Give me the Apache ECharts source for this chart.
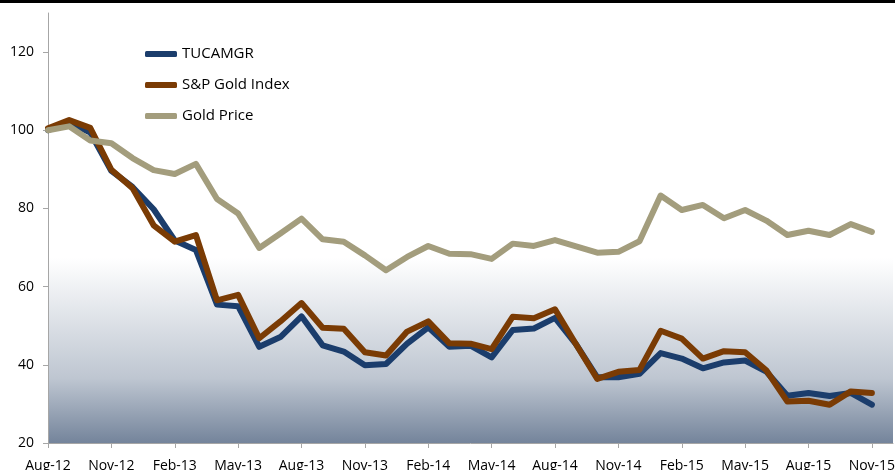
<!DOCTYPE html>
<html>
<head>
<meta charset="utf-8">
<script src="https://cdn.jsdelivr.net/npm/echarts@6/dist/echarts.min.js"></script>
<style>
  html, body { margin: 0; padding: 0; background: #ffffff; }
  #chart { width: 895px; height: 470px; }
</style>
</head>
<body>
<div id="chart"></div>
<script>
const months = ['Aug-12','Sep-12','Oct-12','Nov-12','Dec-12','Jan-13','Feb-13','Mar-13','Apr-13','May-13','Jun-13','Jul-13',
  'Aug-13','Sep-13','Oct-13','Nov-13','Dec-13','Jan-14','Feb-14','Mar-14','Apr-14','May-14','Jun-14','Jul-14',
  'Aug-14','Sep-14','Oct-14','Nov-14','Dec-14','Jan-15','Feb-15','Mar-15','Apr-15','May-15','Jun-15','Jul-15',
  'Aug-15','Sep-15','Oct-15','Nov-15'];

const tucamgr = [100, 102, 99.4, 89.6, 85.5, 79.8, 71.8, 69.4, 55.4, 55.0, 44.6, 47.1,
  52.4, 45.0, 43.4, 39.9, 40.2, 45.4, 49.6, 44.6, 44.9, 41.9, 48.9, 49.3,
  52.0, 45.2, 36.8, 36.8, 37.7, 43.0, 41.6, 39.1, 40.6, 41.1, 38.3, 32.1,
  32.8, 32.0, 32.8, 29.8];

const spGold = [100.5, 102.6, 100.6, 89.9, 85.2, 75.7, 71.5, 73.2, 56.5, 57.9, 46.8, 51.1,
  55.8, 49.5, 49.2, 43.2, 42.4, 48.5, 51.1, 45.5, 45.4, 44.0, 52.3, 51.9,
  54.2, 45.2, 36.4, 38.2, 38.7, 48.7, 46.7, 41.6, 43.5, 43.2, 38.6, 30.6,
  30.8, 29.8, 33.2, 32.8];

const goldPrice = [100, 101, 97.4, 96.7, 92.9, 89.8, 88.8, 91.4, 82.4, 78.7, 69.9, 73.6,
  77.4, 72.1, 71.5, 68.0, 64.2, 67.6, 70.4, 68.4, 68.3, 67.1, 71.0, 70.4,
  71.9, 70.3, 68.7, 68.9, 71.6, 83.3, 79.6, 80.9, 77.5, 79.6, 76.9, 73.2,
  74.3, 73.2, 76.0, 74.0];

const yTicks = [20, 40, 60, 80, 100, 120];

const chart = echarts.init(document.getElementById('chart'), null, { renderer: 'canvas' });
const font = '"Open Sans", sans-serif';

chart.setOption({
  animation: false,
  backgroundColor: '#ffffff',
  graphic: [{
    type: 'rect',
    shape: { x: 0, y: 0, width: 895, height: 3 },
    style: { fill: '#000000' },
    z: 100
  }],
  grid: {
    left: 48, right: 2, top: 13, bottom: 27,
    outerBoundsMode: 'none',
    containLabel: false,
    show: true,
    borderWidth: 0,
    backgroundColor: {
      type: 'linear', x: 0, y: 0, x2: 0, y2: 1,
      colorStops: [
        { offset: 0, color: '#ffffff' },
        { offset: 0.57, color: '#ffffff' },
        { offset: 0.85, color: '#bec6d1' },
        { offset: 1, color: '#74849b' }
      ]
    }
  },
  legend: {
    orient: 'vertical',
    left: 140, top: 40,
    itemWidth: 32, itemHeight: 6,
    itemGap: 13,
    icon: 'roundRect',
    textStyle: { fontFamily: font, fontSize: 15, color: '#000', lineHeight: 18 },
    data: ['TUCAMGR', 'S&P Gold Index', 'Gold Price']
  },
  xAxis: {
    type: 'category',
    data: months.concat(['']),
    boundaryGap: false,
    axisLine: { lineStyle: { color: '#a6a6a6', width: 1 } },
    axisTick: { interval: 2, length: 5, lineStyle: { color: '#a6a6a6' } },
    axisLabel: { interval: 2, margin: 16, fontFamily: font, fontSize: 14, color: '#000' },
    splitLine: { show: false }
  },
  yAxis: {
    type: 'value',
    min: 20, max: 130, interval: 20,
    axisLine: { show: true, lineStyle: { color: '#a6a6a6', width: 1 } },
    axisTick: { show: true, length: 5, customValues: yTicks, lineStyle: { color: '#a6a6a6' } },
    axisLabel: { customValues: yTicks, margin: 14, fontFamily: font, fontSize: 14, color: '#000' },
    splitLine: { show: false }
  },
  series: [
    {
      name: 'TUCAMGR', type: 'line', data: tucamgr, symbol: 'none',
      itemStyle: { color: '#1b3d6c' },
      lineStyle: { color: '#1b3d6c', width: 6, cap: 'round', join: 'round' }
    },
    {
      name: 'S&P Gold Index', type: 'line', data: spGold, symbol: 'none',
      itemStyle: { color: '#7a3b04' },
      lineStyle: { color: '#7a3b04', width: 6, cap: 'round', join: 'round' }
    },
    {
      name: 'Gold Price', type: 'line', data: goldPrice, symbol: 'none',
      itemStyle: { color: '#a39d7d' },
      lineStyle: { color: '#a39d7d', width: 6, cap: 'round', join: 'round' }
    }
  ]
});
</script>
</body>
</html>
